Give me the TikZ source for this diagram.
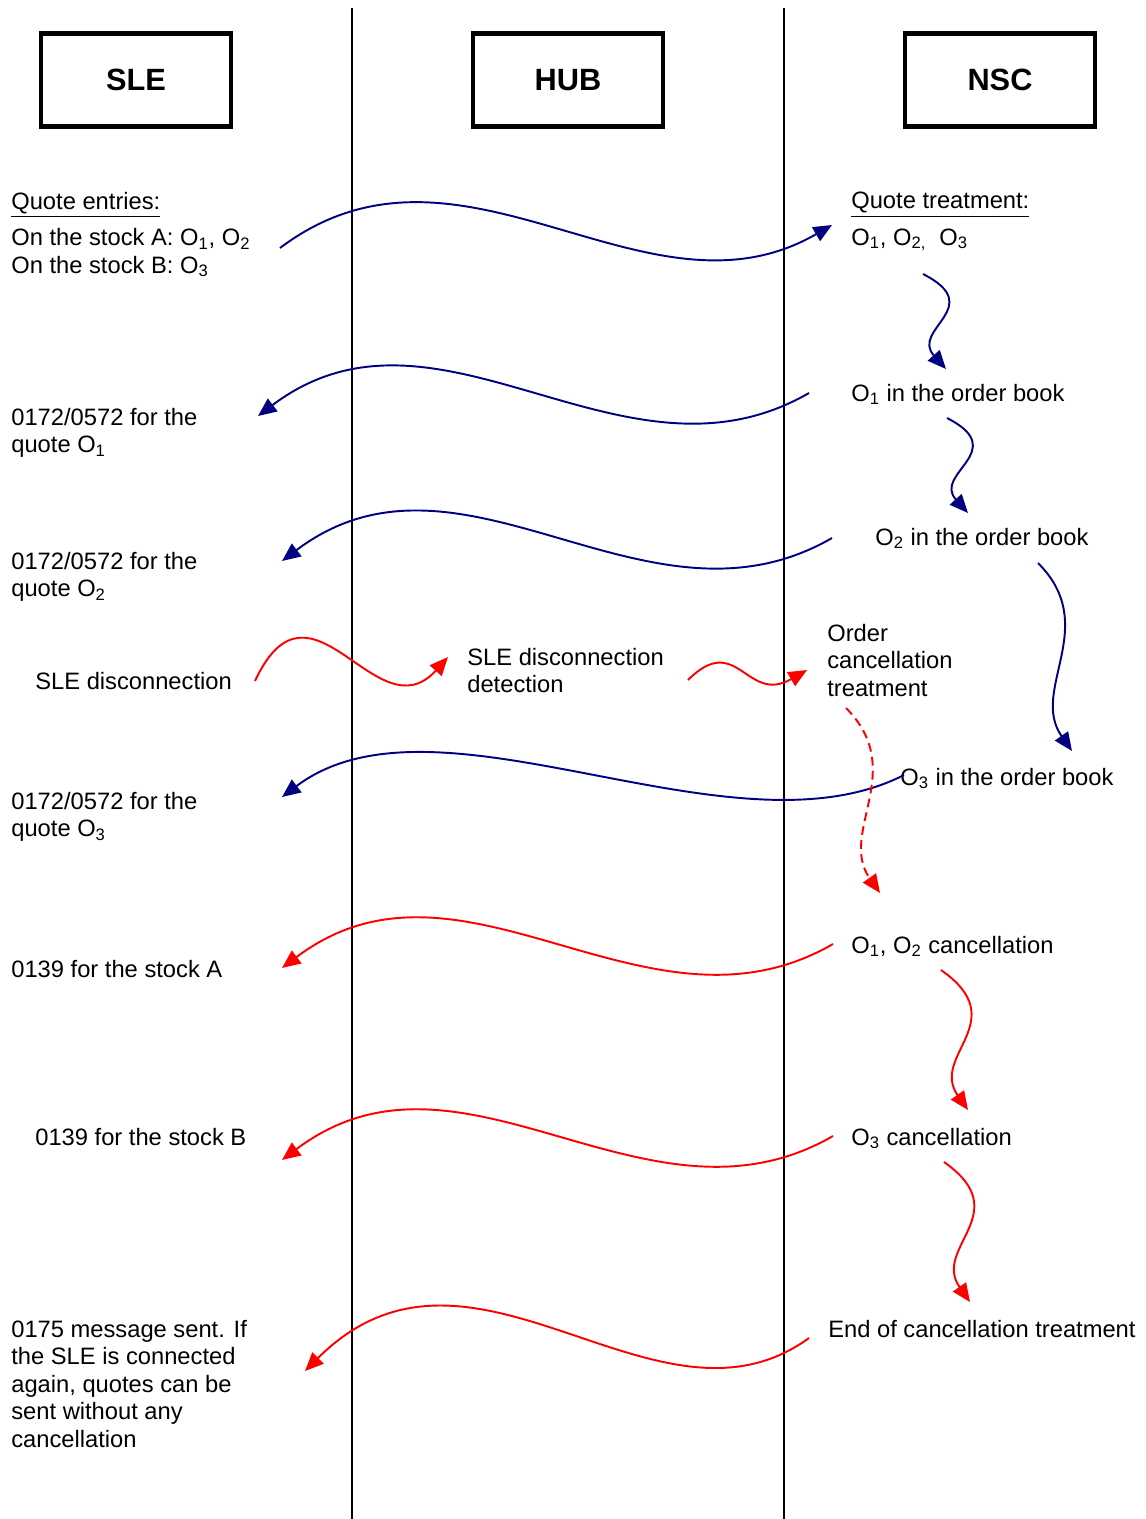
\documentclass[tikz,border=0pt]{standalone}
\usepackage{fontspec}
\setmainfont{Liberation Sans}
\usetikzlibrary{arrows.meta}
\definecolor{msgblue}{RGB}{0,0,128}

\begin{document}
\begin{tikzpicture}[x=0.02cm,y=0.02cm,
    font=\fontsize{13.5}{15.6}\selectfont,
    actor/.style={draw,line width=2.3pt,minimum width=3.8cm,minimum height=1.86cm,font=\bfseries\fontsize{17.5}{20}\selectfont},
    txt/.style={inner sep=0pt,anchor=base west},
    blk/.style={inner sep=0pt,anchor=north west,align=left},
    msg/.style={line width=1.1pt,-{Triangle[length=10.5pt,width=9pt]}},
    bmsg/.style={msg,msgblue},
    rmsg/.style={msg,red}]
    \useasboundingbox (0,0) rectangle (1146,-1519);
    \node[actor] (sle) at (136,-80) {SLE};
    \node[actor] (hub) at (568,-80) {HUB};
    \node[actor] (nsc) at (1000,-80) {NSC};
    \coordinate (l1t) at (352,-8);
    \coordinate (l1b) at (352,-1519);
    \coordinate (l2t) at (784,-8);
    \coordinate (l2b) at (784,-1519);
    \draw[line width=1.2pt] (l1t)--(l1b) (l2t)--(l2b);

    \node[blk] (qent) at (11,-192) {\underline{Quote entries:}\\[5pt]On the stock A: O\textsubscript{1}, O\textsubscript{2}\\On the stock B: O\textsubscript{3}};
    \node[blk] (qtreat) at (851,-192) {\underline{Quote treatment:}\\[5pt]O\textsubscript{1}, O\textsubscript{2,}~ O\textsubscript{3}};
    \node[txt] (o1book) at (851,-401) {O\textsubscript{1} in the order book};
    \node[blk] (ack1) at (11,-408) {0172/0572 for the\\quote O\textsubscript{1}};
    \node[txt] (o2book) at (875,-545) {O\textsubscript{2} in the order book};
    \node[blk] (ack2) at (11,-552) {0172/0572 for the\\quote O\textsubscript{2}};
    \node[txt] (disc) at (35,-689) {SLE disconnection};
    \node[blk] (detect) at (467,-648) {SLE disconnection\\detection};
    \node[blk] (canctr) at (827,-624) {Order\\cancellation\\treatment};
    \node[txt] (o3book) at (900,-785) {O\textsubscript{3} in the order book};
    \node[blk] (ack3) at (11,-792) {0172/0572 for the\\quote O\textsubscript{3}};
    \node[txt] (canc12) at (851,-953) {O\textsubscript{1}, O\textsubscript{2} cancellation};
    \node[txt] (stocka) at (11,-977) {0139 for the stock A};
    \node[txt] (stockb) at (35,-1145) {0139 for the stock B};
    \node[txt] (canc3) at (851,-1145) {O\textsubscript{3} cancellation};
    \node[txt] (endcanc) at (828,-1337) {End of cancellation treatment};
    \node[blk] (msg175) at (11,-1320) {0175 message sent. If\\the SLE is connected\\again, quotes can be\\sent without any\\cancellation};

    \coordinate (m1a) at (280,-248);  \coordinate (m1b) at (832,-225);
    \coordinate (m2a) at (809,-393);  \coordinate (m2b) at (258,-416);
    \coordinate (m3a) at (832,-538);  \coordinate (m3b) at (282,-561);
    \coordinate (m4a) at (904,-775);  \coordinate (m4b) at (282,-797);
    \coordinate (m5a) at (833,-944);  \coordinate (m5b) at (282,-968);
    \coordinate (m6a) at (833,-1136); \coordinate (m6b) at (282,-1160);
    \coordinate (m7a) at (809,-1338); \coordinate (m7b) at (305,-1371);
    \coordinate (d1a) at (255,-681);  \coordinate (d1b) at (448,-657);
    \coordinate (d2a) at (688,-680);  \coordinate (d2b) at (807,-670);
    \coordinate (d3a) at (846,-708);  \coordinate (d3b) at (880,-893);
    \coordinate (n1a) at (923,-274);  \coordinate (n1b) at (946,-369);
    \coordinate (n2a) at (947,-418);  \coordinate (n2b) at (968,-513);
    \coordinate (n3a) at (1038,-563); \coordinate (n3b) at (1072,-751);
    \coordinate (n4a) at (941,-970);  \coordinate (n4b) at (968,-1110);
    \coordinate (n5a) at (944,-1162); \coordinate (n5b) at (970,-1302);

    \draw[bmsg] (m1a) to[out=37,in=210,out looseness=1.05] (m1b);
    \draw[bmsg] (m2a) to[out=210,in=37,in looseness=1.05] (m2b);
    \draw[bmsg] (m3a) to[out=210,in=37,in looseness=1.05] (m3b);
    \draw[bmsg] (m4a) to[out=207,in=37,looseness=0.8] (m4b);
    \draw[rmsg] (m5a) to[out=210,in=37,in looseness=1.05] (m5b);
    \draw[rmsg] (m6a) to[out=210,in=37,in looseness=1.05] (m6b);
    \draw[rmsg] (m7a) to[out=216,in=45,out looseness=0.96,in looseness=1.2] (m7b);
    \draw[rmsg] (d1a) to[out=65,in=228,out looseness=1.75,in looseness=1.4] (d1b);
    \draw[rmsg] (d2a) to[out=45,in=210,looseness=1.5] (d2b);
    \draw[rmsg,dash pattern=on 5pt off 3pt] (d3a) to[out=-45,in=125,out looseness=1.2,in looseness=1] (d3b);
    \draw[bmsg] (n1a) to[out=-27,in=132,out looseness=1.9,in looseness=1.4] (n1b);
    \draw[bmsg] (n2a) to[out=-27,in=132,out looseness=1.9,in looseness=1.4] (n2b);
    \draw[bmsg] (n3a) to[out=-45,in=125,out looseness=1.2,in looseness=1] (n3b);
    \draw[rmsg] (n4a) to[out=-35,in=125,out looseness=1.6,in looseness=1.2] (n4b);
    \draw[rmsg] (n5a) to[out=-35,in=125,out looseness=1.6,in looseness=1.2] (n5b);
\end{tikzpicture}
\end{document}
